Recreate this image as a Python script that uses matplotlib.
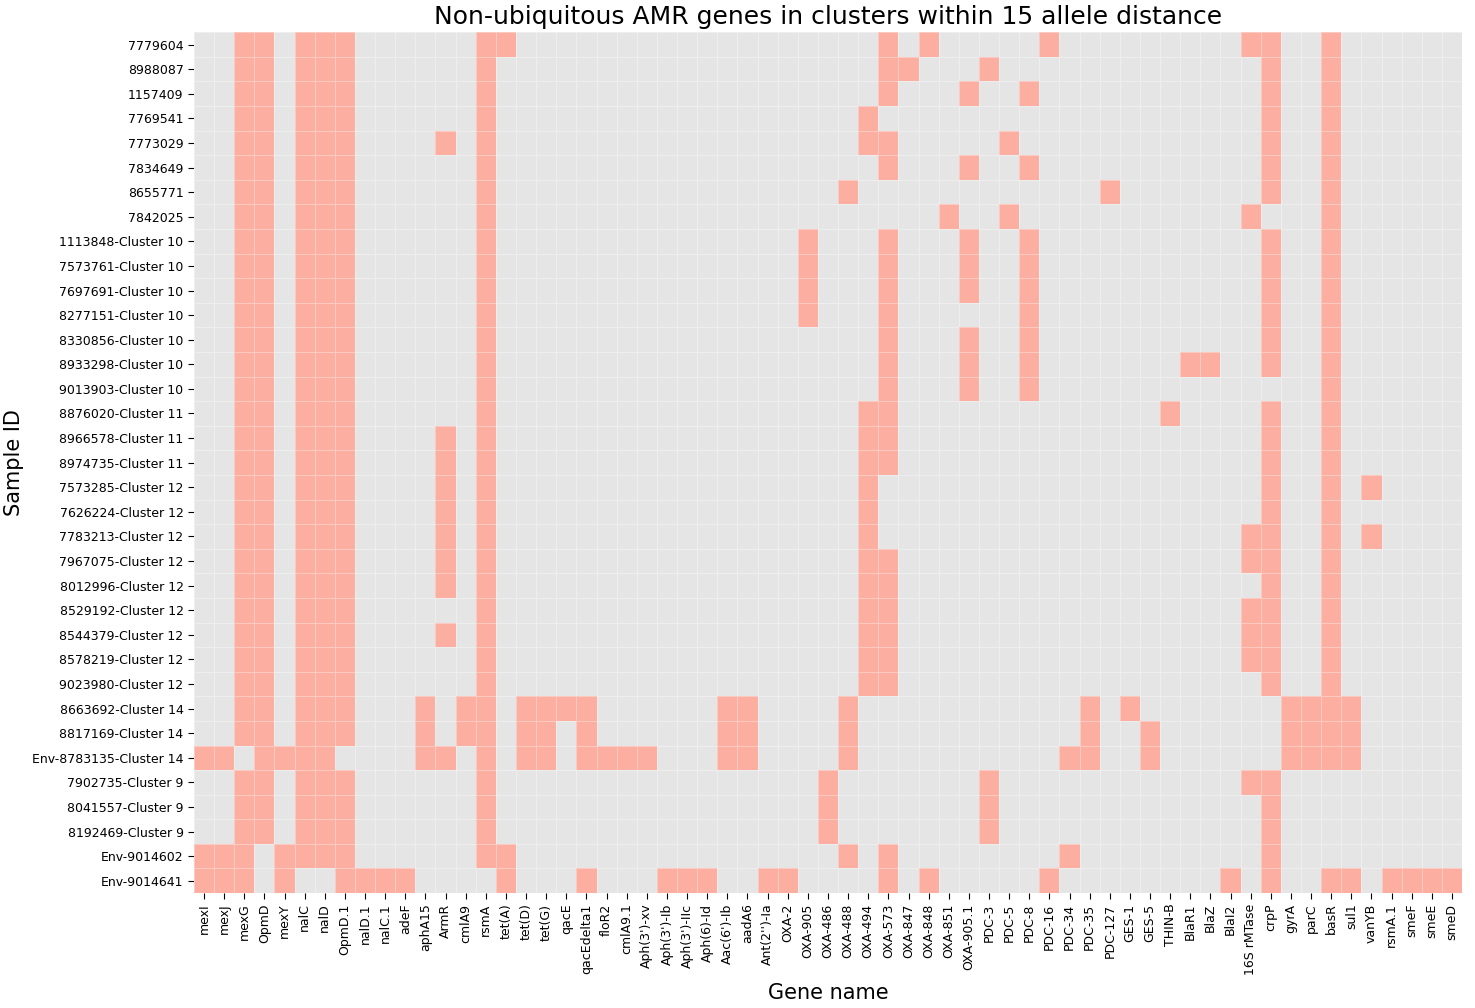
import numpy as np
import matplotlib
matplotlib.use('Agg')
import matplotlib.pyplot as plt
from matplotlib.colors import ListedColormap

plt.style.use('ggplot')

samples = ['7779604', '8988087', '1157409', '7769541', '7773029', '7834649',
           '8655771', '7842025', '1113848-Cluster 10', '7573761-Cluster 10',
           '7697691-Cluster 10', '8277151-Cluster 10', '8330856-Cluster 10',
           '8933298-Cluster 10', '9013903-Cluster 10', '8876020-Cluster 11',
           '8966578-Cluster 11', '8974735-Cluster 11', '7573285-Cluster 12',
           '7626224-Cluster 12', '7783213-Cluster 12', '7967075-Cluster 12',
           '8012996-Cluster 12', '8529192-Cluster 12', '8544379-Cluster 12',
           '8578219-Cluster 12', '9023980-Cluster 12', '8663692-Cluster 14',
           '8817169-Cluster 14', 'Env-8783135-Cluster 14', '7902735-Cluster 9',
           '8041557-Cluster 9', '8192469-Cluster 9', 'Env-9014602', 'Env-9014641']

genes = ['mexI', 'mexJ', 'mexG', 'OpmD', 'mexY', 'nalC', 'nalD', 'OpmD.1',
         'nalD.1', 'nalC.1', 'adeF', 'aphA15', 'ArmR', 'cmlA9', 'rsmA', 'tet(A)',
         'tet(D)', 'tet(G)', 'qacE', 'qacEdelta1', 'floR2', 'cmlA9.1',
         "Aph(3')-xv", "Aph(3')-Ib", "Aph(3')-IIc", 'Aph(6)-Id', "Aac(6')-Ib",
         'aadA6', "Ant(2'')-Ia", 'OXA-2', 'OXA-905', 'OXA-486', 'OXA-488',
         'OXA-494', 'OXA-573', 'OXA-847', 'OXA-848', 'OXA-851', 'OXA-905.1',
         'PDC-3', 'PDC-5', 'PDC-8', 'PDC-16', 'PDC-34', 'PDC-35', 'PDC-127',
         'GES-1', 'GES-5', 'THIN-B', 'BlaR1', 'BlaZ', 'BlaI2', '16S rMTase',
         'crpP', 'gyrA', 'parC', 'basR', 'sul1', 'vanYB', 'rsmA.1', 'smeF',
         'smeE', 'smeD']

# sample indices (rows) where each gene is found, same order as genes
hits = [
    [29, 33, 34],                                                   # mexI
    [29, 33, 34],                                                   # mexJ
    [0, 1, 2, 3, 4, 5, 6, 7, 8, 9, 10, 11, 12, 13, 14, 15, 16, 17, 18, 19,
     20, 21, 22, 23, 24, 25, 26, 27, 28, 30, 31, 32, 33, 34],       # mexG
    [0, 1, 2, 3, 4, 5, 6, 7, 8, 9, 10, 11, 12, 13, 14, 15, 16, 17, 18, 19,
     20, 21, 22, 23, 24, 25, 26, 27, 28, 29, 30, 31, 32],           # OpmD
    [29, 33, 34],                                                   # mexY
    [0, 1, 2, 3, 4, 5, 6, 7, 8, 9, 10, 11, 12, 13, 14, 15, 16, 17, 18, 19,
     20, 21, 22, 23, 24, 25, 26, 27, 28, 29, 30, 31, 32, 33],       # nalC
    [0, 1, 2, 3, 4, 5, 6, 7, 8, 9, 10, 11, 12, 13, 14, 15, 16, 17, 18, 19,
     20, 21, 22, 23, 24, 25, 26, 27, 28, 29, 30, 31, 32, 33],       # nalD
    [0, 1, 2, 3, 4, 5, 6, 7, 8, 9, 10, 11, 12, 13, 14, 15, 16, 17, 18, 19,
     20, 21, 22, 23, 24, 25, 26, 27, 28, 30, 31, 32, 33, 34],       # OpmD.1
    [34], [34], [34],                                               # nalD.1 nalC.1 adeF
    [27, 28, 29],                                                   # aphA15
    [4, 16, 17, 18, 19, 20, 21, 22, 24, 29],                        # ArmR
    [27, 28],                                                       # cmlA9
    [0, 1, 2, 3, 4, 5, 6, 7, 8, 9, 10, 11, 12, 13, 14, 15, 16, 17, 18, 19,
     20, 21, 22, 23, 24, 25, 26, 27, 28, 29, 30, 31, 32, 33],       # rsmA
    [0, 33, 34],                                                    # tet(A)
    [27, 28, 29],                                                   # tet(D)
    [27, 28, 29],                                                   # tet(G)
    [27],                                                           # qacE
    [27, 28, 29, 34],                                               # qacEdelta1
    [29], [29], [29],                                               # floR2 cmlA9.1 Aph(3')-xv
    [34], [34], [34],                                               # Aph(3')-Ib Aph(3')-IIc Aph(6)-Id
    [27, 28, 29],                                                   # Aac(6')-Ib
    [27, 28, 29],                                                   # aadA6
    [34], [34],                                                     # Ant(2'')-Ia OXA-2
    [8, 9, 10, 11],                                                 # OXA-905
    [30, 31, 32],                                                   # OXA-486
    [6, 27, 28, 29, 33],                                            # OXA-488
    [3, 4, 15, 16, 17, 18, 19, 20, 21, 22, 23, 24, 25, 26],         # OXA-494
    [0, 1, 2, 4, 5, 8, 9, 10, 11, 12, 13, 14, 15, 16, 17, 21, 22, 23,
     24, 25, 26, 33, 34],                                           # OXA-573
    [1],                                                            # OXA-847
    [0, 34],                                                        # OXA-848
    [7],                                                            # OXA-851
    [2, 5, 8, 9, 10, 12, 13, 14],                                   # OXA-905.1
    [1, 30, 31, 32],                                                # PDC-3
    [4, 7],                                                         # PDC-5
    [2, 5, 8, 9, 10, 11, 12, 13, 14],                               # PDC-8
    [0, 34],                                                        # PDC-16
    [29, 33],                                                       # PDC-34
    [27, 28, 29],                                                   # PDC-35
    [6],                                                            # PDC-127
    [27],                                                           # GES-1
    [28, 29],                                                       # GES-5
    [15],                                                           # THIN-B
    [13], [13],                                                     # BlaR1 BlaZ
    [34],                                                           # BlaI2
    [0, 7, 20, 21, 23, 24, 25, 30],                                 # 16S rMTase
    [0, 1, 2, 3, 4, 5, 6, 8, 9, 10, 11, 12, 13, 15, 16, 17, 18, 19, 20,
     21, 22, 23, 24, 25, 26, 30, 31, 32, 33, 34],                   # crpP
    [27, 28, 29],                                                   # gyrA
    [27, 28, 29],                                                   # parC
    [0, 1, 2, 3, 4, 5, 6, 7, 8, 9, 10, 11, 12, 13, 14, 15, 16, 17, 18, 19,
     20, 21, 22, 23, 24, 25, 26, 27, 28, 29, 34],                   # basR
    [27, 28, 29, 34],                                               # sul1
    [18, 20],                                                       # vanYB
    [34], [34], [34], [34],                                         # rsmA.1 smeF smeE smeD
]

mat = np.zeros((len(samples), len(genes)))
for j, rows in enumerate(hits):
    mat[rows, j] = 1

fig = plt.figure(figsize=(14.75, 10.08), dpi=100)
ax = fig.add_axes([0.1315, 0.114, 0.8597, 0.854])

cmap = ListedColormap(['#E5E5E5', '#FCAEA1'])
ax.pcolormesh(mat, cmap=cmap, vmin=0, vmax=1,
              edgecolors=(1, 1, 1, 0.35), linewidth=0.6)
ax.grid(False)
ax.set_xlim(0, len(genes))
ax.set_ylim(len(samples), 0)

ax.set_xticks(np.arange(len(genes)) + 0.5)
ax.set_xticklabels(genes, rotation=90, fontsize=9, color='black')
ax.set_yticks(np.arange(len(samples)) + 0.5)
ax.set_yticklabels(samples, fontsize=9, color='black')
ax.tick_params(direction='out', length=4, color='black', width=0.8,
               top=False, right=False)

for s in ax.spines.values():
    s.set_visible(False)

ax.set_title('Non-ubiquitous AMR genes in clusters within 15 allele distance',
             fontsize=18, color='black', pad=6)
ax.set_xlabel('Gene name', fontsize=15, color='black', labelpad=6)
ax.set_ylabel('Sample ID', fontsize=15, color='black')
ax.yaxis.set_label_coords(-0.134, 0.5)

fig.patch.set_facecolor('white')
plt.savefig('out.png', dpi=100, facecolor='white')
